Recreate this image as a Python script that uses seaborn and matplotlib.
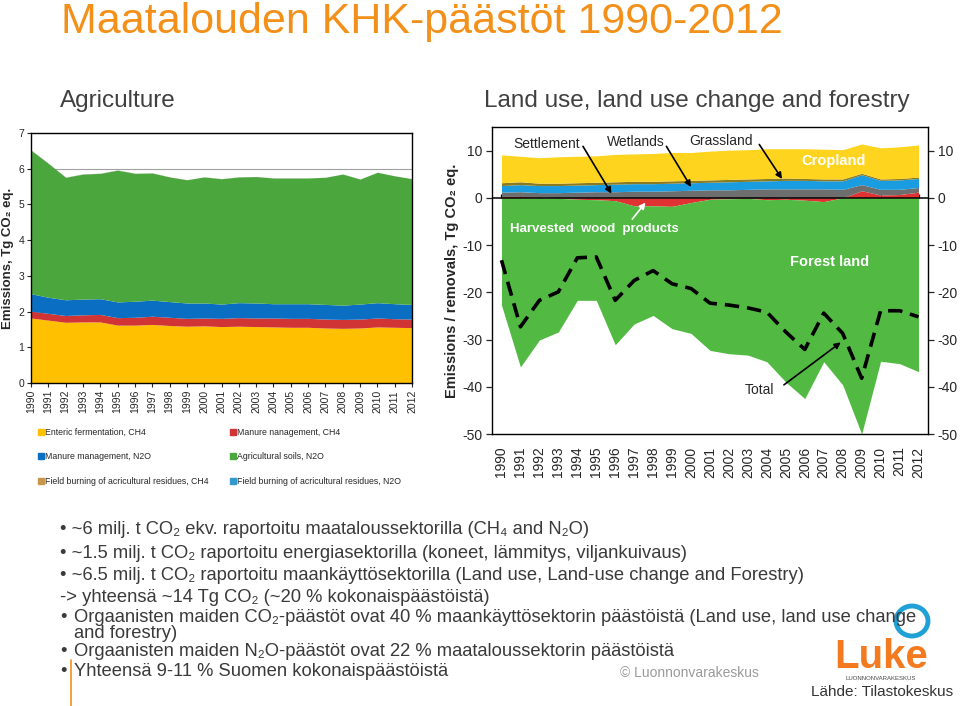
import numpy as np
import pandas as pd
import seaborn as sns
import matplotlib.pyplot as plt
from matplotlib.patches import Patch, Ellipse

sns.set_theme(style="white")
plt.rcParams['font.family'] = ['Liberation Sans', 'DejaVu Sans']
plt.rcParams['axes.unicode_minus'] = False
FAM = ['Liberation Sans', 'DejaVu Sans']

#%% data

years = list(range(1990, 2013))

# agriculture, Tg CO2 eq.
enteric_ch4 = [1.82, 1.76, 1.70, 1.71, 1.71, 1.62, 1.62, 1.64, 1.61, 1.59, 1.60, 1.58,
               1.59, 1.58, 1.57, 1.56, 1.56, 1.54, 1.53, 1.54, 1.57, 1.56, 1.55]
manure_ch4 = [0.19, 0.19, 0.19, 0.20, 0.21, 0.21, 0.22, 0.23, 0.23, 0.22, 0.22, 0.23,
              0.24, 0.24, 0.25, 0.25, 0.25, 0.25, 0.25, 0.25, 0.25, 0.24, 0.24]
manure_n2o = [0.49, 0.45, 0.44, 0.44, 0.44, 0.44, 0.45, 0.45, 0.44, 0.43, 0.42, 0.40,
              0.42, 0.42, 0.40, 0.41, 0.41, 0.41, 0.40, 0.42, 0.43, 0.42, 0.41]
agri_soils_n2o = [4.02, 3.75, 3.43, 3.50, 3.51, 3.69, 3.58, 3.56, 3.49, 3.45, 3.53, 3.51,
                  3.52, 3.54, 3.52, 3.52, 3.52, 3.56, 3.67, 3.50, 3.65, 3.58, 3.52]
burning_ch4 = [0.004, 0.004, 0.003, 0.003, 0.003, 0.003, 0.003, 0.003, 0.002, 0.002, 0.002, 0.002,
               0.002, 0.002, 0.002, 0.002, 0.002, 0.001, 0.001, 0.001, 0.001, 0.001, 0.001]
burning_n2o = [0.002, 0.002, 0.002, 0.002, 0.002, 0.002, 0.002, 0.002, 0.001, 0.001, 0.001, 0.001,
               0.001, 0.001, 0.001, 0.001, 0.001, 0.001, 0.001, 0.001, 0.001, 0.001, 0.001]

agri_labels = ["Enteric fermentation, CH4", "Manure nanagement, CH4",
               "Manure management, N2O", "Agricultural soils, N2O",
               "Field burning of acricultural residues, CH4",
               "Field burning of acricultural residues, N2O"]

# LULUCF, Tg CO2 eq.
hwp = [0.3, 0.3, 0.2, -0.1, -0.3, -0.4, -0.6, -1.7, -1.7, -1.8, -1.0, -0.3,
       -0.2, -0.1, -0.4, -0.3, -0.5, -0.8, 0.0, 1.5, 0.6, 0.7, 1.2]
settlement = [0.9, 1.0, 0.9, 1.1, 1.2, 1.3, 1.3, 1.4, 1.4, 1.5, 1.6, 1.7,
              1.7, 1.8, 1.9, 1.9, 1.9, 1.9, 1.8, 1.3, 1.2, 1.1, 1.0]
wetlands = [1.4, 1.5, 1.5, 1.5, 1.5, 1.5, 1.6, 1.6, 1.6, 1.6, 1.6, 1.6,
            1.7, 1.7, 1.7, 1.8, 1.8, 1.7, 1.8, 2.1, 1.9, 2.0, 1.9]
grassland = [0.6, 0.6, 0.5, 0.5, 0.5, 0.5, 0.5, 0.5, 0.5, 0.5, 0.5, 0.5,
             0.5, 0.5, 0.5, 0.5, 0.4, 0.4, 0.4, 0.3, 0.3, 0.3, 0.3]
cropland = [5.9, 5.4, 5.4, 5.6, 5.6, 5.6, 5.8, 5.8, 5.9, 6.0, 5.9, 6.1,
            6.2, 6.2, 6.3, 6.2, 6.3, 6.3, 6.2, 6.2, 6.6, 6.7, 6.8]
forest = [-22.7, -35.8, -30.1, -28.3, -21.4, -21.3, -30.5, -25.0, -23.2, -25.9, -27.7, -32.0,
          -32.8, -33.2, -34.3, -38.7, -42.0, -33.9, -39.6, -50.0, -34.6, -35.1, -36.8]
total = [-13.2, -27.3, -21.7, -19.9, -12.7, -12.5, -21.7, -17.5, -15.4, -18.2, -19.2, -22.3,
         -22.7, -23.3, -24.2, -28.4, -32.1, -24.4, -28.7, -38.2, -23.9, -23.9, -25.2]

bullets = [
    "• ~6 milj. t CO₂ ekv. raportoitu maataloussektorilla (CH₄ and N₂O)",
    "• ~1.5 milj. t CO₂ raportoitu energiasektorilla (koneet, lämmitys, viljankuivaus)",
    "• ~6.5 milj. t CO₂ raportoitu maankäyttösektorilla (Land use, Land-use change and Forestry)",
    "-> yhteensä ~14 Tg CO₂ (~20 % kokonaispäästöistä)",
]
bullets2 = [
    "Orgaanisten maiden CO₂-päästöt ovat 40 % maankäyttösektorin päästöistä (Land use, land use change",
    "and forestry)",
    "Orgaanisten maiden N₂O-päästöt ovat 22 % maataloussektorin päästöistä",
    "Yhteensä 9-11 % Suomen kokonaispäästöistä",
]

#%% figure

W, H = 960, 706
fig = plt.figure(figsize=(W / 100, H / 100), dpi=100)
fx = lambda px: px / W
fy = lambda py: 1 - py / H

fig.text(fx(61), fy(33), "Maatalouden KHK-päästöt 1990-2012", color="#F39019",
         fontsize=31, family=FAM, va="baseline", ha="left")
fig.text(fx(60), fy(101), "Agriculture", color="#404040", fontsize=17.5,
         family=FAM, va="center")
fig.text(fx(484), fy(101), "Land use, land use change and forestry", color="#404040",
         fontsize=17.5, family=FAM, va="center")

#%% agriculture

axa = fig.add_axes([fx(31), fy(383), (412 - 31) / W, (383 - 133) / H])
agri_cols = ["#FFC000", "#D03434", "#0A6FC2", "#4BA63D", "#C8964B", "#3399CC"]
stack = [enteric_ch4, manure_ch4, manure_n2o, agri_soils_n2o, burning_ch4, burning_n2o]
axa.stackplot(years, stack, colors=agri_cols, linewidth=0, zorder=2)
axa.set_xlim(1990, 2012)
axa.set_ylim(0, 7)
axa.set_yticks(range(0, 8))
axa.set_xticks(years)
axa.set_xticklabels([str(y) for y in years], rotation=90, fontsize=7.5)
axa.tick_params(axis="y", labelsize=7.5, left=True, length=3, width=0.8, pad=2)
axa.tick_params(axis="x", bottom=True, length=3, width=0.8, pad=2)
axa.yaxis.grid(True, color="#A0A0A0", lw=0.8, zorder=0)
axa.set_axisbelow(True)
for s in axa.spines.values():
    s.set_color("black")
    s.set_linewidth(1.0)
axa.set_ylabel("Emissions, Tg CO₂ eq.", fontsize=9.5, fontweight="bold", labelpad=3)

# legend is filled column by column
handles = [Patch(color=c) for c in agri_cols]
order = [0, 2, 4, 1, 3, 5]
fig.legend([handles[i] for i in order], [agri_labels[i] for i in order],
           loc="upper left", bbox_to_anchor=(fx(38), fy(428)), ncol=2,
           frameon=False, handlelength=0.7, handleheight=0.7,
           handletextpad=0.1, columnspacing=2.4, labelspacing=1.75,
           borderaxespad=0, borderpad=0, prop={"family": FAM, "size": 6.3})

#%% LULUCF

axl = fig.add_axes([fx(492), fy(434), (928 - 492) / W, (434 - 127) / H])
x = np.array(years)
h = np.array(hwp)
pos = [np.clip(h, 0, None), np.array(settlement), np.array(wetlands),
       np.array(grassland), np.array(cropland)]
pos_cols = ["#E03232", "#6E6E6E", "#1A9DE0", "#8A7A22", "#FFD41F"]
base = np.zeros(len(x))
for vals, c in zip(pos, pos_cols):
    axl.fill_between(x, base, base + vals, color=c, lw=0, zorder=2)
    base = base + vals
neg_h = np.clip(h, None, 0)
axl.fill_between(x, 0, neg_h, color="#E03232", lw=0, zorder=2)
axl.fill_between(x, neg_h, neg_h + np.array(forest), color="#52B943", lw=0, zorder=2)

df_tot = pd.DataFrame({"year": years, "total": total})
sns.lineplot(data=df_tot, x="year", y="total", ax=axl, color="black", lw=2.6,
             zorder=4, legend=False)
axl.lines[-1].set_dashes([4, 2.2])

axl.axhline(0, color="black", lw=1.1, zorder=3)
axl.set_xlim(1989.5, 2012.5)
axl.set_ylim(-50, 15)
axl.set_yticks(range(-50, 11, 10))
axl.set_xticks(years)
axl.set_xticklabels([str(y) for y in years], rotation=90, fontsize=10)
axl.tick_params(axis="x", bottom=False, pad=3)
axl.tick_params(axis="y", left=True, right=True, labelleft=True, labelright=True,
                length=4, width=0.9, labelsize=10, pad=3)
axl.set_xlabel("")
axl.set_ylabel("Emissions / removals, Tg CO₂ eq.", fontsize=10.5, fontweight="bold",
               labelpad=2)
for s in axl.spines.values():
    s.set_color("black")
    s.set_linewidth(1.0)

sec = axl.secondary_xaxis(50 / 65)
sec.set_xticks(years)
sec.set_xticklabels([])
sec.tick_params(axis="x", direction="out", length=3, width=0.9, color="black")
sec.spines["bottom"].set_visible(False)
sec.spines["top"].set_visible(False)

arrow = dict(arrowstyle="-|>", color="black", lw=1.2, mutation_scale=9, shrinkA=0, shrinkB=0)
axl.text(1992.4, 11.5, "Settlement", fontsize=10, ha="center", va="center", zorder=5)
axl.annotate("", xy=(1995.8, 0.9), xytext=(1994.3, 10.9), arrowprops=arrow, zorder=5)
axl.text(1997.1, 11.9, "Wetlands", fontsize=10, ha="center", va="center", zorder=5)
axl.annotate("", xy=(2000.0, 2.3), xytext=(1998.7, 10.9), arrowprops=arrow, zorder=5)
axl.text(2001.6, 12.1, "Grassland", fontsize=10, ha="center", va="center", zorder=5)
axl.annotate("", xy=(2004.8, 4.0), xytext=(2003.6, 11.3), arrowprops=arrow, zorder=5)
axl.text(2007.5, 7.7, "Cropland", fontsize=10.5, color="white", fontweight="bold",
         ha="center", va="center", zorder=5)
axl.text(1994.9, -6.6, "Harvested  wood  products", fontsize=9.5, color="white",
         fontweight="bold", ha="center", va="center", zorder=5)
axl.annotate("", xy=(1997.6, -1.0), xytext=(1996.9, -4.5),
             arrowprops=dict(arrow, color="white"), zorder=5)
axl.text(2007.3, -13.6, "Forest land", fontsize=10.5, color="white", fontweight="bold",
         ha="center", va="center", zorder=5)
axl.text(2003.6, -40.6, "Total", fontsize=10, ha="center", va="center", zorder=5)
axl.annotate("", xy=(2007.9, -30.6), xytext=(2004.9, -39.6), arrowprops=arrow, zorder=5)

#%% bullet text

txt = dict(color="#3A3A3A", fontsize=13.2, family=FAM, va="center", ha="left")
for line, py in zip(bullets, [530, 553, 576, 598]):
    fig.text(fx(60), fy(py), line, **txt)
for line, py, dot in zip(bullets2, [617, 634, 652, 671], [True, False, True, True]):
    if dot:
        fig.text(fx(60), fy(py), "•", **txt)
    fig.text(fx(74), fy(py), line, **txt)

fig.add_artist(plt.Line2D([fx(71), fx(71)], [fy(660), fy(706)], color="#F39019", lw=1.2))
fig.text(fx(620), fy(673), "© Luonnonvarakeskus", color="#9A9A9A", fontsize=10,
         family=FAM, va="center")
fig.text(fx(953), fy(692), "Lähde: Tilastokeskus", color="#333333", fontsize=11,
         family=FAM, va="center", ha="right")

# logo
fig.add_artist(Ellipse((fx(912), fy(621)), 32 / W, 30 / H, transform=fig.transFigure,
                       fill=False, edgecolor="#1FA0D6", lw=3.5))
fig.text(fx(881), fy(657), "Luke", color="#F47A20", fontsize=29, fontweight="bold",
         family=FAM, ha="center", va="center")
fig.text(fx(881), fy(679), "LUONNONVARAKESKUS", color="#444444", fontsize=4.3,
         family=FAM, ha="center", va="center")

fig.savefig("out.png", dpi=100)
